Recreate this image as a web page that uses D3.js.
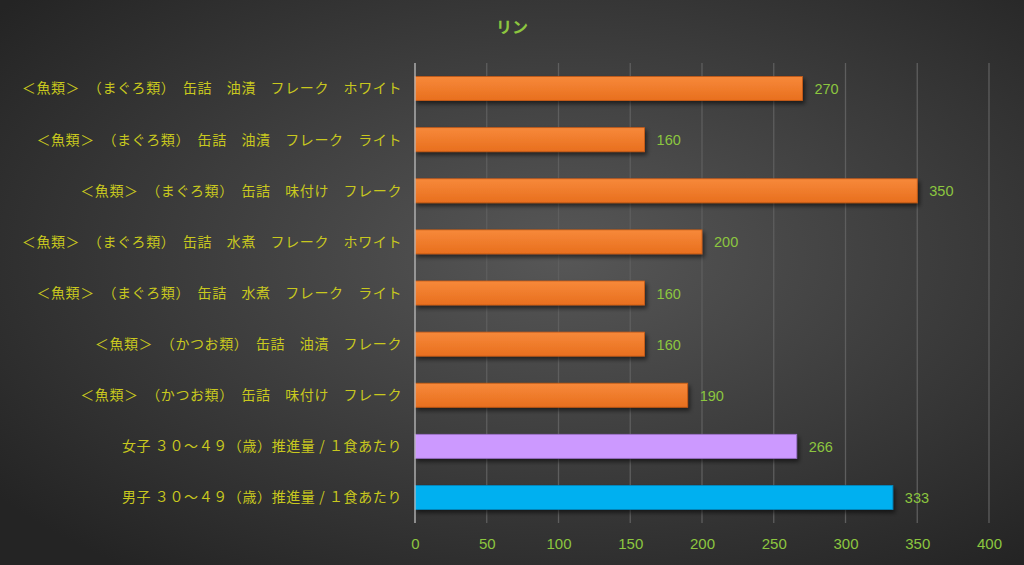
<!DOCTYPE html>
<html lang="ja">
<head>
<meta charset="utf-8">
<title>リン</title>
<script src="https://d3js.org/d3.v7.min.js"></script>
<style>
  html, body { margin: 0; padding: 0; background: #333; }
  svg { display: block; font-family: "Noto Sans CJK JP", "Noto Sans", sans-serif; }
</style>
</head>
<body>
<div id="chart"></div>
<script>
var categories = [
  "＜魚類＞　（まぐろ類）　缶詰　油漬　フレーク　ホワイト",
  "＜魚類＞　（まぐろ類）　缶詰　油漬　フレーク　ライト",
  "＜魚類＞　（まぐろ類）　缶詰　味付け　フレーク",
  "＜魚類＞　（まぐろ類）　缶詰　水煮　フレーク　ホワイト",
  "＜魚類＞　（まぐろ類）　缶詰　水煮　フレーク　ライト",
  "＜魚類＞　（かつお類）　缶詰　油漬　フレーク",
  "＜魚類＞　（かつお類）　缶詰　味付け　フレーク",
  "女子 ３０～４９（歳）推進量 / １食あたり",
  "男子 ３０～４９（歳）推進量 / １食あたり"
];
var values = [270, 160, 350, 200, 160, 160, 190, 266, 333];
var kinds = ["food", "food", "food", "food", "food", "food", "food", "female", "male"];
var xTicks = [0, 50, 100, 150, 200, 250, 300, 350, 400];

var W = 1024, H = 565;
var margin = {left: 415, right: 35, top: 63, bottom: 42};

var svg = d3.select("#chart").append("svg")
  .attr("width", W).attr("height", H);

var defs = svg.append("defs");
var bg = defs.append("radialGradient").attr("id", "bg")
  .attr("cx", "55%").attr("cy", "45%").attr("r", "70%");
bg.append("stop").attr("offset", "0%").attr("stop-color", "#575757");
bg.append("stop").attr("offset", "100%").attr("stop-color", "#242424");

var og = defs.append("linearGradient").attr("id", "orange")
  .attr("x1", 0).attr("y1", 0).attr("x2", 0).attr("y2", 1);
og.append("stop").attr("offset", "0%").attr("stop-color", "#f7893a");
og.append("stop").attr("offset", "100%").attr("stop-color", "#e86f1e");

var sh = defs.append("filter").attr("id", "shadow")
  .attr("x", "-5%").attr("y", "-30%").attr("width", "110%").attr("height", "170%");
sh.append("feDropShadow").attr("dx", 2).attr("dy", 3).attr("stdDeviation", 2)
  .attr("flood-color", "#000").attr("flood-opacity", 0.55);

svg.append("rect").attr("width", W).attr("height", H).attr("fill", "url(#bg)");

var x = d3.scaleLinear().domain([0, 400]).range([margin.left, W - margin.right]);
var y = d3.scaleBand().domain(categories)
  .range([margin.top, H - margin.bottom]).paddingInner(0.53).paddingOuter(0.265);

// grid
svg.append("g").selectAll("line").data(xTicks.slice(1)).enter().append("line")
  .attr("x1", function(d) { return x(d); }).attr("x2", function(d) { return x(d); })
  .attr("y1", margin.top).attr("y2", H - margin.bottom)
  .attr("stroke", "#5e5e5e").attr("stroke-width", 1.3);

// x axis labels
var xAxis = d3.axisBottom(x).tickValues(xTicks).tickSize(0).tickPadding(15);
var gx = svg.append("g").attr("transform", "translate(0," + (H - margin.bottom) + ")").call(xAxis);
gx.select(".domain").remove();
gx.selectAll("text").attr("fill", "#8cc63f").attr("font-size", 15)
  .style("font-family", "'Liberation Sans', Arial, sans-serif");

var colors = {food: "url(#orange)", female: "#cc99ff", male: "#00b0f0"};
var edge = {food: "#c85a14", female: "#9a70c8", male: "#0088c0"};

// bars
svg.append("g").selectAll("rect").data(values).enter().append("rect")
  .attr("x", x(0))
  .attr("y", function(d, i) { return y(categories[i]); })
  .attr("width", function(d) { return x(d) - x(0); })
  .attr("height", y.bandwidth())
  .attr("fill", function(d, i) { return colors[kinds[i]]; })
  .attr("stroke", function(d, i) { return edge[kinds[i]]; })
  .attr("stroke-width", 0.8)
  .attr("filter", "url(#shadow)");

// value labels
svg.append("g").selectAll("text").data(values).enter().append("text")
  .attr("x", function(d) { return x(d) + 12; })
  .attr("y", function(d, i) { return y(categories[i]) + y.bandwidth() / 2; })
  .attr("dy", "0.38em")
  .attr("fill", "#8cc63f").attr("font-size", 14.5)
  .style("font-family", "'Liberation Sans', Arial, sans-serif")
  .text(function(d) { return d; });

// y axis line
svg.append("line").attr("x1", x(0)).attr("x2", x(0))
  .attr("y1", margin.top).attr("y2", H - margin.bottom)
  .attr("stroke", "#bfbfbf").attr("stroke-width", 1.3);

// category labels
svg.append("g").selectAll("text").data(categories).enter().append("text")
  .attr("x", 402)
  .attr("y", function(d) { return y(d) + y.bandwidth() / 2; })
  .attr("dy", "0.35em")
  .attr("text-anchor", "end")
  .attr("fill", "#c8c81e").attr("font-size", 14)
  .attr("letter-spacing", 0.6)
  .text(function(d) { return d; });

// title
svg.append("text").attr("x", 512).attr("y", 33).attr("text-anchor", "middle")
  .attr("fill", "#8cc63f").attr("font-size", 16).attr("font-weight", "bold")
  .text("リン");
</script>
</body>
</html>
